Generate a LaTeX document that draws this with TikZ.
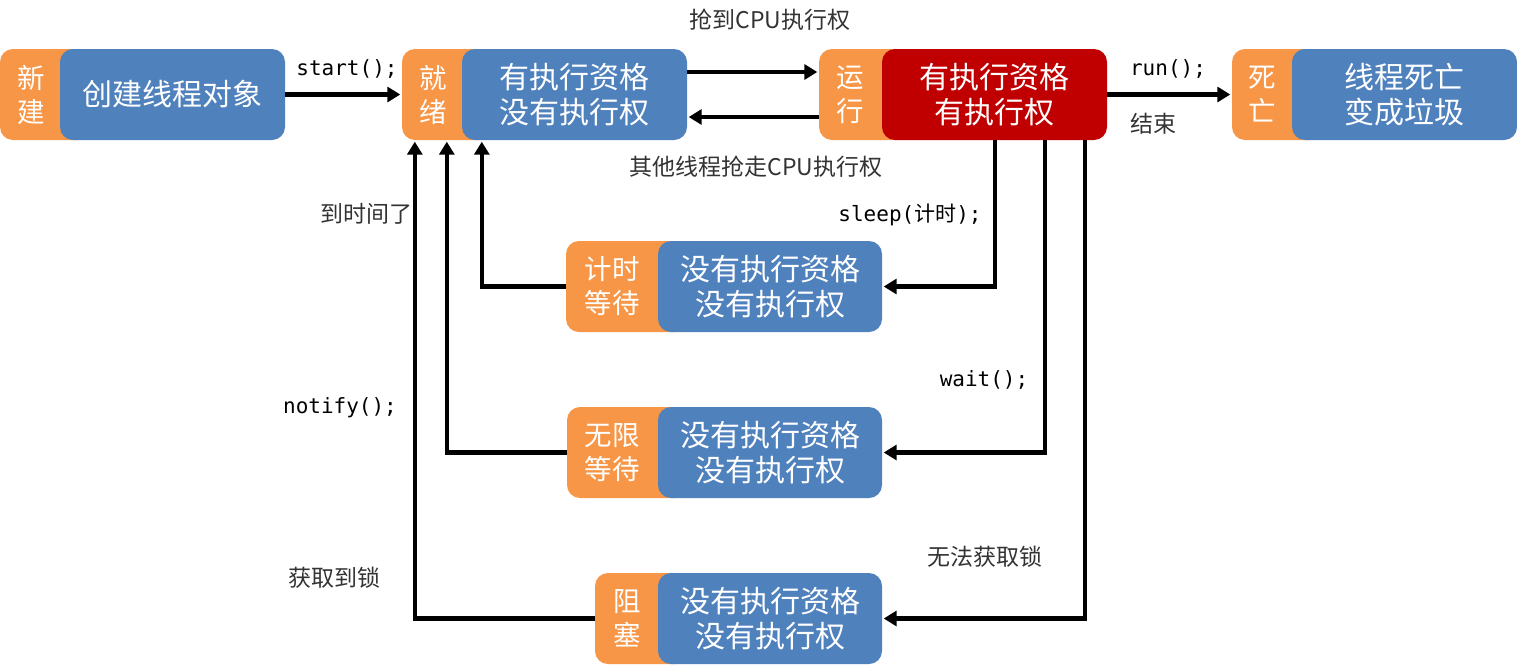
\documentclass[tikz,border=0pt]{standalone}
\usepackage{fontspec}
\setmainfont{Noto Sans CJK SC}
\newfontfamily\cjk{Noto Sans CJK SC}
\newfontfamily\codefont{DejaVu Sans Mono}
\usetikzlibrary{arrows.meta}
\definecolor{tagorange}{HTML}{F79646}
\definecolor{stateblue}{HTML}{4F81BD}
\definecolor{runred}{HTML}{C00000}
\definecolor{labelgray}{HTML}{333333}

\tikzset{
  tag/.style={fill=tagorange, rounded corners=13pt, minimum height=91pt, inner sep=0pt, draw=none},
  body/.style={fill=stateblue, rounded corners=13pt, minimum height=91pt, minimum width=225pt,
    inner sep=0pt, text=white, font=\fontsize{30pt}{35pt}\selectfont, align=center},
  tagtext/.style={text=white, font=\fontsize{27.5pt}{34pt}\selectfont, align=center, inner sep=0pt},
  code/.style={font=\codefont\fontsize{21pt}{24pt}\selectfont, text=black, inner sep=0pt},
  note/.style={font=\fontsize{23pt}{26pt}\selectfont, text=labelgray, inner sep=0pt},
  arr/.style={line width=4.3pt, shorten >=1.5pt, -{Triangle[length=13pt,width=15pt]}},
}

\begin{document}
\begin{tikzpicture}[x=1pt,y=-1pt]
\useasboundingbox (0,0) rectangle (1517,665);

% ---- states: orange tag behind, coloured body in front ----
\node[tag, minimum width=90pt] (newL) at (45,94.5) {};
\node[body] (newB) at (172.5,94.5) {创建线程对象};
\node[tagtext] (newT) at (31,94.5) {新\\建};

\node[tag, minimum width=90pt] (readyL) at (447,94.5) {};
\node[body] (readyB) at (574.5,94.5) {有执行资格\\没有执行权};
\node[tagtext] (readyT) at (433,94.5) {就\\绪};

\node[tag, minimum width=90pt] (runL) at (864,94.5) {};
\node[body, fill=runred] (runB) at (994.5,94.5) {有执行资格\\有执行权};
\node[tagtext] (runT) at (850,94.5) {运\\行};

\node[tag, minimum width=90pt] (deadL) at (1277,94.5) {};
\node[body] (deadB) at (1404.5,94.5) {线程死亡\\变成垃圾};
\node[tagtext] (deadT) at (1262,94.5) {死\\亡};

\node[tag, minimum width=122pt] (timedL) at (627,286.5) {};
\node[body, minimum width=224pt] (timedB) at (770,286.5) {没有执行资格\\没有执行权};
\node[tagtext] (timedT) at (612,286.5) {计时\\等待};

\node[tag, minimum width=121pt] (waitL) at (627.5,452.5) {};
\node[body, minimum width=224pt] (waitB) at (770,452.5) {没有执行资格\\没有执行权};
\node[tagtext] (waitT) at (612,452.5) {无限\\等待};

\node[tag, minimum width=93pt] (blockL) at (641.5,618.5) {};
\node[body, minimum width=224pt] (blockB) at (770,618.5) {没有执行资格\\没有执行权};
\node[tagtext] (blockT) at (627,618.5) {阻\\塞};

% ---- transitions ----
\draw[arr] (newB.east) -- (readyL.west);
\draw[arr] ([yshift=22.5pt]readyB.east) -- ([yshift=22.5pt]runL.west);
\draw[arr] ([yshift=-22.5pt]runL.west) -- ([yshift=-22.5pt]readyB.east);
\draw[arr] (runB.east) -- (deadL.west);

\draw[arr] ([xshift=113pt]runB.south west) |- (timedB.east);
\draw[arr] ([xshift=163pt]runB.south west) |- (waitB.east);
\draw[arr] ([xshift=203pt]runB.south west) |- (blockB.east);

\draw[arr] (timedL.west) -| ([xshift=80pt]readyL.south west);
\draw[arr] (waitL.west) -| ([xshift=45pt]readyL.south west);
\draw[arr] (blockL.west) -| ([xshift=13pt]readyL.south west);

% ---- transition labels ----
\node[code] (lStart) at (347,69) {start();};
\node[note] (lGrab) at (770,20) {抢到CPU执行权};
\node[note] (lLose) at (756,167) {其他线程抢走CPU执行权};
\node[code] (lRun) at (1168,69) {run();};
\node[note] (lEnd) at (1153,124) {结束};
\node[code] (lSleep) at (910,215) {sleep({\cjk 计时});};
\node[note] (lTime) at (366,214) {到时间了};
\node[code] (lWait) at (984,380) {wait();};
\node[code] (lNotify) at (340,408) {notify();};
\node[note] (lNoLock) at (985,557) {无法获取锁};
\node[note] (lLock) at (334,578) {获取到锁};
\end{tikzpicture}
\end{document}
